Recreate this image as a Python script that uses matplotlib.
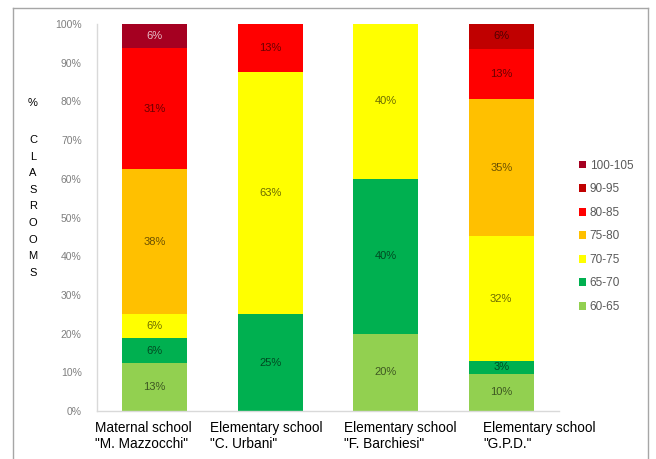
import matplotlib
matplotlib.use("Agg")
import matplotlib.pyplot as plt
from matplotlib.lines import Line2D
from matplotlib.patches import Patch
import numpy as np

plt.rcParams['font.family'] = ['Liberation Sans', 'DejaVu Sans']

categories = ['Maternal school\n"M. Mazzocchi"', 'Elementary school\n"C. Urbani"',
              'Elementary school\n"F. Barchiesi"', 'Elementary school\n"G.P.D."']
series_names = ['60-65', '65-70', '70-75', '75-80', '80-85', '90-95', '100-105']
v_60_65 = [12.5, 0, 20, 9.68]
v_65_70 = [6.25, 25, 40, 3.23]
v_70_75 = [6.25, 62.5, 40, 32.26]
v_75_80 = [37.5, 0, 0, 35.48]
v_80_85 = [31.25, 12.5, 0, 12.90]
v_90_95 = [0, 0, 0, 6.45]
v_100_105 = [6.25, 0, 0, 0]
series_values = [v_60_65, v_65_70, v_70_75, v_75_80, v_80_85, v_90_95, v_100_105]
colors = ['#92D050', '#00B050', '#FFFF00', '#FFC000', '#FF0000', '#C00000', '#A50021']
yticks = [0, 10, 20, 30, 40, 50, 60, 70, 80, 90, 100]

W, H = 656, 459
fig = plt.figure(figsize=(W / 100, H / 100), dpi=100)
ax = fig.add_axes([97 / W, 1 - 411 / H, (559 - 97) / W, (411 - 24) / H])

x = np.arange(len(categories))
bottom = np.zeros(len(categories))
for name, vals, col in zip(series_names, series_values, colors):
    vals = np.array(vals, dtype=float)
    ax.bar(x, vals, 0.56, bottom=bottom, color=col, label=name, edgecolor='none')
    for i, v in enumerate(vals):
        if v > 0:
            txt = '%d%%' % int(v + 0.5)
            if name == '100-105':
                tc, al = 'white', 0.75
            else:
                tc, al = 'black', 0.58
            ax.text(x[i], bottom[i] + v / 2, txt, ha='center', va='center',
                    fontsize=8, color=tc, alpha=al)
    bottom += vals

ax.set_xlim(-0.5, len(categories) - 0.5)
ax.set_ylim(0, 100)
ax.set_yticks(yticks)
ax.set_yticklabels(['%d%%' % t for t in yticks], fontsize=7.5, color='#7F7F7F')
ax.tick_params(axis='y', length=0, pad=11)
ax.set_xticks([])
for s in ['top', 'right']:
    ax.spines[s].set_visible(False)
for s in ['left', 'bottom']:
    ax.spines[s].set_color('#D9D9D9')
    ax.spines[s].set_linewidth(1)

# category labels (left aligned as in the reference)
label_left_px = [95, 210, 344, 483]
for lbl, px in zip(categories, label_left_px):
    fig.text(px / W, 1 - 421 / H, lbl, ha='left', va='top', fontsize=9.8,
             color='black', linespacing=1.15)

# vertical y-axis label
fig.text(33 / W, 1 - 103 / H, '%', ha='center', va='center', fontsize=8, color='black')
letters = list('CLASROOMS')
for k, ch in enumerate(letters):
    fig.text(33 / W, 1 - (140 + k * 16.6) / H, ch, ha='center', va='center',
             fontsize=8, color='black')

# legend
handles = [Patch(facecolor=c, edgecolor='none', label=n) for n, c in zip(series_names, colors)][::-1]
fig.legend(handles=handles, loc='upper left', bbox_to_anchor=(568 / W, 1 - 149 / H),
           frameon=False, fontsize=8.5, handlelength=0.65, handleheight=0.65,
           handletextpad=0.3, labelspacing=0.98, labelcolor='#595959')

# outer chart border (bottom cut off)
bc = '#A6A6A6'
fig.add_artist(Line2D([13 / W, 13 / W], [0, 1 - 8 / H], color=bc, lw=1, transform=fig.transFigure))
fig.add_artist(Line2D([13 / W, 648 / W], [1 - 8 / H, 1 - 8 / H], color=bc, lw=1, transform=fig.transFigure))
fig.add_artist(Line2D([648 / W, 648 / W], [0, 1 - 8 / H], color=bc, lw=1, transform=fig.transFigure))

fig.savefig('out.png', dpi=100)
